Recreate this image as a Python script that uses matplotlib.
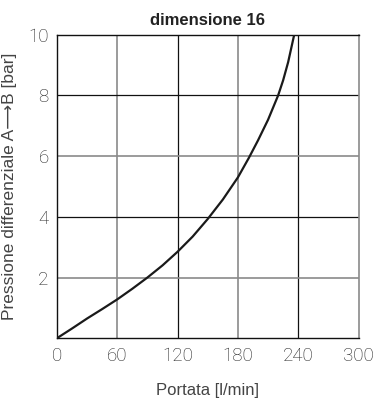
import numpy as np
import matplotlib
matplotlib.use("Agg")
import matplotlib.pyplot as plt

# curve
portata = [0, 15, 30, 45, 60, 75, 90, 105, 120, 135, 150, 165, 180, 191, 200, 210, 220, 225, 230, 236]
pressione = [0, 0.32, 0.65, 0.96, 1.28, 1.63, 2.0, 2.4, 2.85, 3.35, 3.93, 4.57, 5.3, 5.95, 6.52, 7.2,
             8.0, 8.5, 9.1, 10.0]

xticks = [0, 60, 120, 180, 240, 300]
yticks = [2, 4, 6, 8, 10]

fig = plt.figure(figsize=(3.75, 4.05), dpi=100)
ax = fig.add_axes([0.152, 0.165, 0.804, 0.749])

# alternating grey / black grid
for i, x in enumerate(xticks[1:-1]):
    if i % 2 == 0:
        ax.axvline(x, color="#8a8a8a", lw=1.2, zorder=1)
    else:
        ax.axvline(x, color="#111111", lw=0.9, zorder=1)
for y in yticks[:-1]:
    if y % 4 == 0:
        ax.axhline(y, color="#111111", lw=0.9, zorder=1)
    else:
        ax.axhline(y, color="#8a8a8a", lw=1.2, zorder=1)

ax.plot(portata, pressione, color="#1a1a1a", lw=1.6, zorder=3,
        solid_joinstyle="round")

ax.set_xlim(0, 300)
ax.set_ylim(0, 10)
ax.set_xticks(xticks)
ax.set_yticks(yticks)
ax.tick_params(length=0, pad=6, labelsize=13.5, colors="#222222")
for lab in ax.get_xticklabels() + ax.get_yticklabels():
    lab.set_family("Roboto")
    lab.set_fontweight("light")
    lab.set_fontstretch("condensed")
for s in ["left", "bottom", "top"]:
    ax.spines[s].set_color("#111111")
    ax.spines[s].set_linewidth(1.0)
ax.spines["right"].set_color("#8a8a8a")
ax.spines["right"].set_linewidth(1.2)

ax.set_title("dimensione 16", fontsize=12, fontweight="bold", color="#222222",
             family="Liberation Sans", pad=7)
ax.set_xlabel("Portata [l/min]", fontsize=12, color="#444444", family="Liberation Sans", labelpad=13)
ax.set_ylabel("Pressione differenziale A\u27f6B [bar]", fontsize=12.5, color="#444444",
              family=["Liberation Sans", "DejaVu Sans"], labelpad=8)

fig.savefig("out.png", dpi=100)
